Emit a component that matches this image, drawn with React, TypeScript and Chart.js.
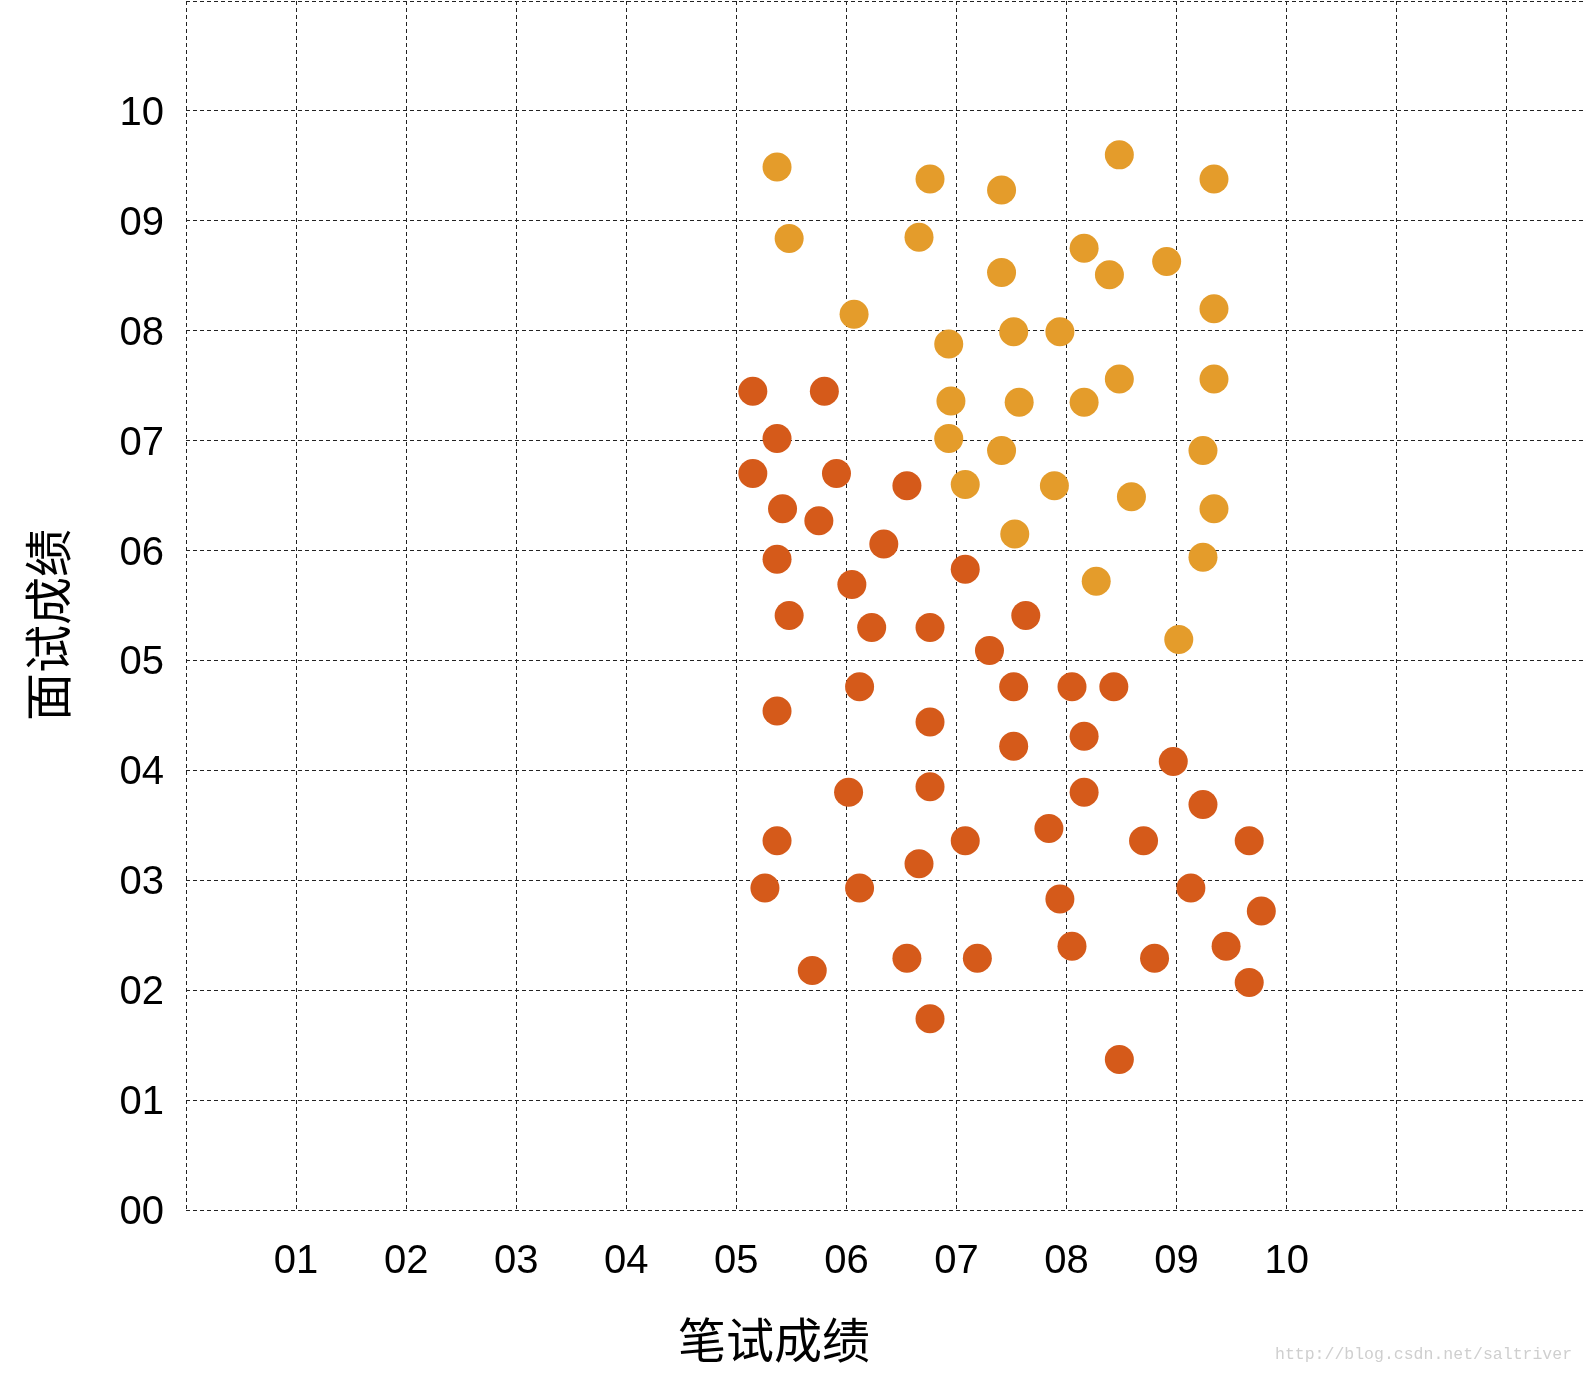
import React, { useEffect, useRef } from "react";
import { Chart, registerables } from "chart.js";

Chart.register(...registerables);

// 笔试成绩 (x) / 面试成绩 (y) — light orange group
const lightX = [5.37, 6.76, 7.41, 8.48, 9.34, 5.48, 6.66, 8.16, 7.41, 8.39, 8.91, 6.07, 9.34, 7.52, 7.94, 6.93, 6.95, 7.57, 8.16, 8.48, 9.34, 6.93, 7.41, 9.24, 7.08, 7.89, 8.59, 9.34, 7.53, 9.24, 8.27, 9.02];
const lightY = [9.49, 9.38, 9.28, 9.60, 9.38, 8.84, 8.85, 8.75, 8.53, 8.51, 8.63, 8.15, 8.20, 7.99, 7.99, 7.88, 7.36, 7.35, 7.35, 7.56, 7.56, 7.02, 6.91, 6.91, 6.60, 6.59, 6.49, 6.38, 6.15, 5.94, 5.72, 5.19];

// dark orange group
const darkX = [5.15, 5.80, 5.37, 5.15, 5.91, 6.55, 5.42, 5.75, 6.34, 5.37, 6.05, 7.08, 5.48, 6.23, 6.76, 7.63, 7.30, 6.12, 7.52, 8.05, 8.43, 5.37, 6.76, 8.16, 7.52, 8.97, 6.02, 6.76, 8.16, 9.24, 7.84, 5.37, 7.08, 8.70, 9.66, 6.66, 5.26, 6.12, 9.13, 7.94, 9.77, 8.05, 9.45, 6.55, 7.19, 8.80, 5.69, 9.66, 6.76, 8.48];
const darkY = [7.45, 7.45, 7.02, 6.70, 6.70, 6.59, 6.38, 6.27, 6.06, 5.92, 5.69, 5.83, 5.41, 5.30, 5.30, 5.41, 5.09, 4.76, 4.76, 4.76, 4.76, 4.54, 4.44, 4.31, 4.22, 4.08, 3.80, 3.85, 3.80, 3.69, 3.47, 3.36, 3.36, 3.36, 3.36, 3.15, 2.93, 2.93, 2.93, 2.83, 2.72, 2.40, 2.40, 2.29, 2.29, 2.29, 2.18, 2.07, 1.74, 1.37];

const xTickLabels = ["", "01", "02", "03", "04", "05", "06", "07", "08", "09", "10", "", ""];
const yTickLabels = ["00", "01", "02", "03", "04", "05", "06", "07", "08", "09", "10", ""];

const xTitle = "笔试成绩";
const yTitle = "面试成绩";
const watermark = "http://blog.csdn.net/saltriver";

const W = 1586;
const H = 1375;

export default function App() {
  const ref = useRef<HTMLCanvasElement | null>(null);

  useEffect(() => {
    if (!ref.current) return;
    const toPts = (xs: number[], ys: number[]) => xs.map((x, i) => ({ x, y: ys[i] }));

    const textPlugin = {
      id: "extraText",
      afterDraw(chart: any) {
        const ctx = chart.ctx;
        ctx.save();
        ctx.fillStyle = "#000";
        ctx.font = '48px "Noto Sans CJK SC"';
        ctx.textAlign = "center";
        ctx.textBaseline = "middle";
        ctx.fillText(xTitle, 774, 1340);
        ctx.translate(48, 625);
        ctx.rotate(-Math.PI / 2);
        ctx.fillText(yTitle, 0, 0);
        ctx.restore();
        ctx.save();
        ctx.fillStyle = "#cfcfcf";
        ctx.font = '16.5px "Liberation Mono"';
        ctx.textAlign = "left";
        ctx.textBaseline = "middle";
        ctx.fillText(watermark, 1275, 1355);
        ctx.restore();
      },
    };

    const zeroPad = (s: any) => {
      s.paddingTop = 0;
      s.paddingBottom = 0;
      s.paddingLeft = 0;
      s.paddingRight = 0;
    };

    const gridOpts = { color: "#222", lineWidth: 1, drawTicks: false };
    const tickFont = { family: '"Liberation Sans", Arial, sans-serif', size: 40 };

    const chart = new Chart(ref.current, {
      type: "scatter",
      data: {
        datasets: [
          {
            data: toPts(darkX, darkY),
            backgroundColor: "#D55A1A",
            borderWidth: 0,
            pointRadius: 14.5,
          },
          {
            data: toPts(lightX, lightY),
            backgroundColor: "#E49C2B",
            borderWidth: 0,
            pointRadius: 14.5,
          },
        ],
      },
      options: {
        animation: false,
        responsive: false,
        layout: { autoPadding: false, padding: { top: 1, left: 0, right: 0, bottom: 0 } },
        plugins: { legend: { display: false }, tooltip: { enabled: false } },
        scales: {
          x: {
            type: "linear",
            min: 0,
            max: 12.72,
            afterFit: (s: any) => {
              s.height = H - 1210;
              zeroPad(s);
            },
            grid: gridOpts,
            border: { display: false, dash: [4, 3] },
            ticks: {
              stepSize: 1,
              includeBounds: false,
              autoSkip: false,
              maxRotation: 0,
              padding: 28,
              color: "#000",
              font: tickFont,
              callback: (v: any) => xTickLabels[Math.round(Number(v))] ?? "",
            },
          },
          y: {
            type: "linear",
            min: 0,
            max: 11,
            afterFit: (s: any) => {
              s.width = 186;
              zeroPad(s);
            },
            grid: gridOpts,
            border: { display: false, dash: [4, 3] },
            ticks: {
              stepSize: 1,
              includeBounds: false,
              autoSkip: false,
              padding: 22,
              labelOffset: 3,
              color: "#000",
              font: tickFont,
              callback: (v: any) => yTickLabels[Math.round(Number(v))] ?? "",
            },
          },
        },
      },
      plugins: [textPlugin],
    });
    return () => chart.destroy();
  }, []);

  return (
    <div style={{ position: "absolute", left: 0, top: 0, width: W, height: H, background: "#fff" }}>
      <canvas ref={ref} width={W} height={H} style={{ width: W, height: H, display: "block" }} />
    </div>
  );
}
